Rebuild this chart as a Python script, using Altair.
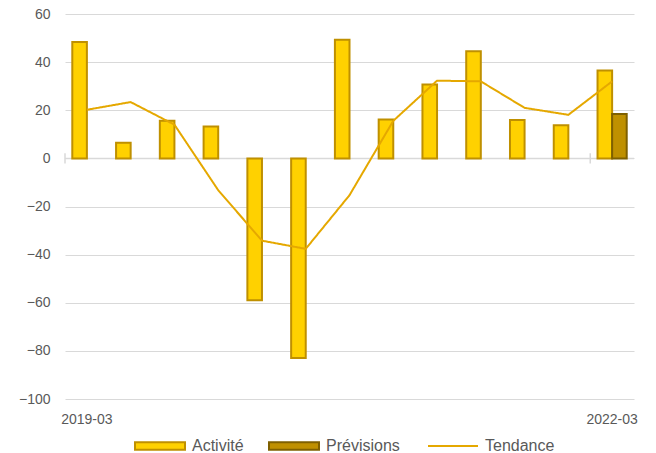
import altair as alt
import pandas as pd

# ---- data ----
trimestres = ["2019-03", "2019-06", "2019-09", "2019-12", "2020-03", "2020-06",
              "2020-09", "2020-12", "2021-03", "2021-06", "2021-09", "2021-12", "2022-03"]
activite = [48.4, 6.5, 15.6, 13.2, -59.0, -83.0, 49.3, 16.2, 30.7, 44.5, 16.0, 13.8, 36.5]
previsions_trimestres = ["2022-03"]
previsions = [18.4]
tendance = [20.2, 23.4, 14.0, -13.2, -34.2, -37.6, -15.3, 15.6, 32.3, 32.0, 21.0, 18.1, 32.0]
etiquettes_x = ["2019-03", "2022-03"]
graduations_y = [-100, -80, -60, -40, -20, 0, 20, 40, 60]
series_barres = ["Activité", "Prévisions"]
serie_ligne = ["Tendance"]
couleurs = ["#FFD100", "#BF9000"]
contours = ["#BF9000", "#7F6000"]
couleur_ligne = "#E5A800"

df_barres = pd.DataFrame(
    {"trimestre": trimestres + previsions_trimestres,
     "valeur": activite + previsions,
     "serie": ["Activité"] * len(activite) + ["Prévisions"] * len(previsions)}
)
df_ligne = pd.DataFrame({"trimestre": trimestres, "valeur": tendance,
                         "serie": serie_ligne * len(tendance)})
df_zero = pd.DataFrame({"valeur": [0]})
df_ticks = pd.DataFrame({"trimestre": etiquettes_x})

GRIS = "#595959"
FONT = "Liberation Sans"

x_scale = alt.Scale(domain=trimestres, paddingInner=0, paddingOuter=0)
y_scale = alt.Scale(domain=[-100, 60], nice=False, zero=False)

x_axis = alt.Axis(values=etiquettes_x, title=None, labelAngle=0, domain=False,
                  ticks=False, tickSize=0, labelPadding=13, labelFontSize=14,
                  labelColor=GRIS, labelFont=FONT, grid=False)
y_axis = alt.Axis(values=graduations_y, title=None, domain=False, ticks=False,
                  tickSize=0, labelPadding=15, labelFontSize=14, labelColor=GRIS,
                  labelFont=FONT, gridColor="#D9D9D9", gridWidth=1)


def X(**kw):
    return alt.X("trimestre:N", scale=x_scale, sort=trimestres, axis=x_axis, **kw)


def Y():
    return alt.Y("valeur:Q", scale=y_scale, axis=y_axis)


rect_path = "M-1,-0.15H1V0.15H-1Z"


def legende_barres():
    return alt.Legend(
        orient="none", legendX=69, legendY=406, direction="horizontal", columns=2,
        title=None, symbolType=rect_path, symbolSize=2500, symbolStrokeWidth=2,
        symbolOpacity=1, labelFontSize=16, labelColor=GRIS, labelFont=FONT,
        labelOffset=6, columnPadding=21, padding=0,
    )


legende_ligne = alt.Legend(
    orient="none", legendX=362, legendY=406, direction="horizontal",
    title=None, symbolType="stroke", symbolSize=2500, symbolStrokeWidth=2,
    symbolStrokeColor=couleur_ligne, labelFontSize=16, labelColor=GRIS,
    labelFont=FONT, labelOffset=6, padding=0,
)

zero = alt.Chart(df_zero).mark_rule(color="#D9D9D9", strokeWidth=1.5).encode(y=Y())

ticks = alt.Chart(df_ticks).mark_rule(color="#D9D9D9", strokeWidth=1.5).encode(
    x=X(bandPosition=0), y=alt.datum(-2.1), y2=alt.datum(2.1)
)

barres = alt.Chart(df_barres).mark_bar(strokeWidth=2).encode(
    x=X(),
    xOffset=alt.XOffset("serie:N", scale=alt.Scale(domain=series_barres, paddingInner=0, paddingOuter=0.5)),
    y=Y(),
    color=alt.Color("serie:N", scale=alt.Scale(domain=series_barres, range=couleurs), legend=legende_barres()),
    stroke=alt.Stroke("serie:N", scale=alt.Scale(domain=series_barres, range=contours), legend=legende_barres()),
)

ligne = alt.Chart(df_ligne).mark_line(strokeWidth=2, color=couleur_ligne).encode(
    x=X(), y=Y(),
    strokeDash=alt.StrokeDash("serie:N", scale=alt.Scale(domain=serie_ligne, range=[[1, 0]]),
                              legend=legende_ligne),
)

chart = (
    alt.layer(zero, ticks, barres, ligne)
    .resolve_scale(color="independent", stroke="independent", strokeDash="independent")
    .properties(
        width=569, height=385,
        autosize=alt.AutoSizeParams(type="none"),
        padding={"left": 57, "top": 6, "right": 14, "bottom": 54},
        background="white",
    )
    .configure(font=FONT)
    .configure_view(strokeWidth=0)
)

chart.save("out.html", embed_options={"renderer": "svg", "actions": False})
